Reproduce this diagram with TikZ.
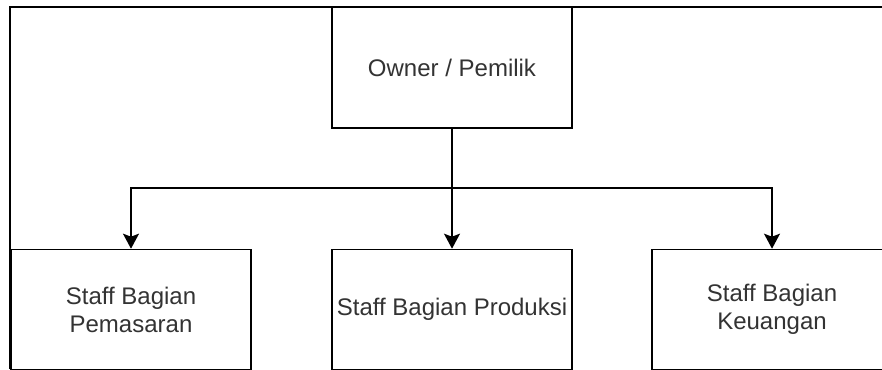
\documentclass[tikz,border=0pt]{standalone}
\usepackage{fontspec}
\setmainfont{Liberation Sans}
\usetikzlibrary{arrows.meta}
\begin{document}
\begin{tikzpicture}[x=1pt,y=-1pt,
	unitbox/.style={draw=black,line width=1.6pt,fill=white,minimum width=240pt,minimum height=120pt,inner sep=2pt,align=center,text=black!80,font=\fontsize{24}{28}\selectfont},
	link/.style={draw=black,line width=1.6pt},
	arr/.style={link,-{Stealth[length=15pt,width=16pt,inset=3pt]}}]
	\useasboundingbox (0,0) rectangle (882,369);
	% outer frame
	\draw[link] (10,369) -- (10,7) -- (882,7);
	\node[unitbox,minimum height=121pt] (owner) at (452,67.5) {Owner / Pemilik};
	\node[unitbox] (pemasaran) at (131,309.5) {Staff Bagian\\Pemasaran};
	\node[unitbox] (produksi) at (452,309.5) {Staff Bagian Produksi};
	\node[unitbox] (keuangan) at (772,309.5) {Staff Bagian\\Keuangan};
	\coordinate (bus) at (452,188);
	\draw[link] (owner.south) -- (bus);
	\draw[arr] (bus) -| (pemasaran.north);
	\draw[arr] (bus) -- (produksi.north);
	\draw[arr] (bus) -| (keuangan.north);
\end{tikzpicture}
\end{document}
